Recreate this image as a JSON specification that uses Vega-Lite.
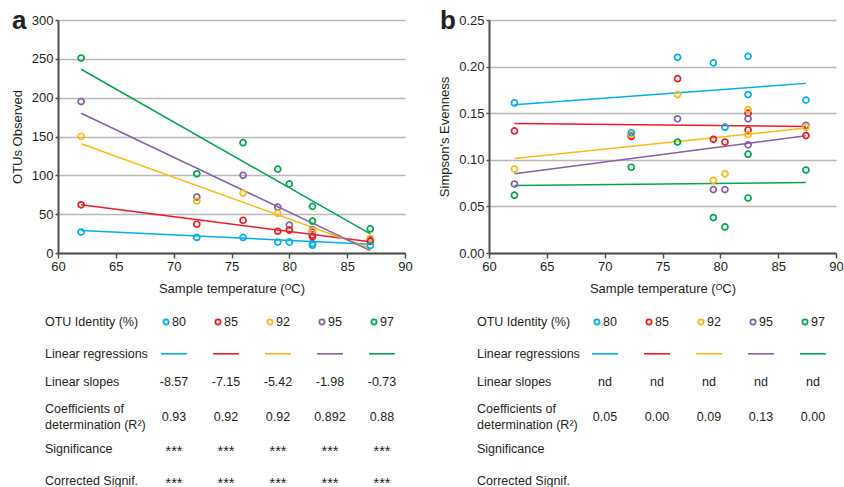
{
  "$schema": "https://vega.github.io/schema/vega-lite/v6.json",
  "padding": {"left": 11, "top": 8, "right": 0, "bottom": 0},
  "background": "white",
  "config": {
    "view": {"stroke": null},
    "font": "Liberation Sans",
    "text": {"font": "Liberation Sans", "fontSize": 12.5, "color": "#231f20"},
    "axis": {
      "domainColor": "#4d4d4d", "domainWidth": 2, "tickColor": "#4d4d4d", "tickWidth": 1.5,
      "labelFont": "Liberation Sans", "labelFontSize": 13, "labelColor": "#231f20",
      "titleFont": "Liberation Sans", "titleFontSize": 13, "titleFontWeight": "normal", "titleColor": "#231f20",
      "gridColor": "#b8b8b8", "gridWidth": 1.3, "labelFlush": false, "labelOverlap": false
    }
  },
  "datasets": {
    "otu": [
      {"T":62,"v":251,"id":"97"},{"T":62,"v":195,"id":"95"},{"T":62,"v":150,"id":"92"},{"T":62,"v":62,"id":"85"},{"T":62,"v":27,"id":"80"},
      {"T":72,"v":102,"id":"97"},{"T":72,"v":72,"id":"95"},{"T":72,"v":67,"id":"92"},{"T":72,"v":37,"id":"85"},{"T":72,"v":20,"id":"80"},
      {"T":76,"v":142,"id":"97"},{"T":76,"v":100,"id":"95"},{"T":76,"v":77,"id":"92"},{"T":76,"v":42,"id":"85"},{"T":76,"v":20,"id":"80"},
      {"T":79,"v":108,"id":"97"},{"T":79,"v":59,"id":"95"},{"T":79,"v":51,"id":"92"},{"T":79,"v":28,"id":"85"},{"T":79,"v":14,"id":"80"},
      {"T":80,"v":89,"id":"97"},{"T":80,"v":36,"id":"95"},{"T":80,"v":29.5,"id":"92"},{"T":80,"v":29.5,"id":"85"},{"T":80,"v":14,"id":"80"},
      {"T":82,"v":60,"id":"97"},{"T":82,"v":30,"id":"95"},{"T":82,"v":28,"id":"92"},{"T":82,"v":23,"id":"85"},{"T":82,"v":12,"id":"80"},
      {"T":82,"v":41,"id":"97"},{"T":82,"v":27,"id":"95"},{"T":82,"v":29,"id":"92"},{"T":82,"v":21,"id":"85"},{"T":82,"v":10,"id":"80"},
      {"T":87,"v":31,"id":"97"},{"T":87,"v":17,"id":"95"},{"T":87,"v":19,"id":"92"},{"T":87,"v":15,"id":"85"},{"T":87,"v":9.5,"id":"80"}
    ],
    "otuFit": [
      {"T":62,"v":29,"id":"80"},{"T":87,"v":11.2,"id":"80"},
      {"T":62,"v":62,"id":"85"},{"T":87,"v":14.5,"id":"85"},
      {"T":62,"v":140.6,"id":"92"},{"T":87,"v":6.2,"id":"92"},
      {"T":62,"v":180,"id":"95"},{"T":87,"v":3,"id":"95"},
      {"T":62,"v":236.6,"id":"97"},{"T":87,"v":24.5,"id":"97"}
    ],
    "even": [
      {"T":62.2,"v":0.161,"id":"80"},{"T":62.2,"v":0.131,"id":"85"},{"T":62.2,"v":0.090,"id":"92"},{"T":62.2,"v":0.074,"id":"95"},{"T":62.2,"v":0.062,"id":"97"},
      {"T":72.3,"v":0.126,"id":"95"},{"T":72.3,"v":0.092,"id":"97"},{"T":72.3,"v":0.125,"id":"85"},{"T":72.3,"v":0.127,"id":"92"},{"T":72.3,"v":0.129,"id":"80"},
      {"T":76.3,"v":0.210,"id":"80"},{"T":76.3,"v":0.187,"id":"85"},{"T":76.3,"v":0.170,"id":"92"},{"T":76.3,"v":0.144,"id":"95"},{"T":76.3,"v":0.119,"id":"97"},
      {"T":79.4,"v":0.204,"id":"80"},{"T":79.4,"v":0.122,"id":"85"},{"T":79.4,"v":0.078,"id":"92"},{"T":79.4,"v":0.068,"id":"95"},{"T":79.4,"v":0.038,"id":"97"},
      {"T":80.4,"v":0.135,"id":"80"},{"T":80.4,"v":0.119,"id":"85"},{"T":80.4,"v":0.085,"id":"92"},{"T":80.4,"v":0.068,"id":"95"},{"T":80.4,"v":0.028,"id":"97"},
      {"T":82.4,"v":0.211,"id":"80"},{"T":82.4,"v":0.150,"id":"85"},{"T":82.4,"v":0.154,"id":"92"},{"T":82.4,"v":0.144,"id":"95"},{"T":82.4,"v":0.106,"id":"97"},
      {"T":82.4,"v":0.170,"id":"80"},{"T":82.4,"v":0.132,"id":"85"},{"T":82.4,"v":0.127,"id":"92"},{"T":82.4,"v":0.116,"id":"95"},{"T":82.4,"v":0.059,"id":"97"},
      {"T":87.4,"v":0.164,"id":"80"},{"T":87.4,"v":0.137,"id":"95"},{"T":87.4,"v":0.135,"id":"92"},{"T":87.4,"v":0.126,"id":"85"},{"T":87.4,"v":0.089,"id":"97"}
    ],
    "evenFit": [
      {"T":62.2,"v":0.159,"id":"80"},{"T":87.4,"v":0.182,"id":"80"},
      {"T":62.2,"v":0.139,"id":"85"},{"T":87.4,"v":0.1357,"id":"85"},
      {"T":62.2,"v":0.1014,"id":"92"},{"T":87.4,"v":0.134,"id":"92"},
      {"T":62.2,"v":0.085,"id":"95"},{"T":87.4,"v":0.1257,"id":"95"},
      {"T":62.2,"v":0.0725,"id":"97"},{"T":87.4,"v":0.0757,"id":"97"}
    ],
    "tableA": [
      {"kind":"label","row":"identity","col":0,"text":"OTU Identity (%)"},
      {"kind":"label","row":"regression","col":0,"text":"Linear regressions"},
      {"kind":"labelS","row":"slope","col":0,"text":"Linear slopes"},
      {"kind":"label2","row":"r2","col":0,"text":"Coefficients of\ndetermination (R²)"},
      {"kind":"label","row":"sig","col":0,"text":"Significance"},
      {"kind":"label","row":"corr","col":0,"text":"Corrected Signif."},
      {"kind":"legend","row":"identity","col":1,"id":"80"},
      {"kind":"legend","row":"identity","col":2,"id":"85"},
      {"kind":"legend","row":"identity","col":3,"id":"92"},
      {"kind":"legend","row":"identity","col":4,"id":"95"},
      {"kind":"legend","row":"identity","col":5,"id":"97"},
      {"kind":"reg","row":"regression","col":1,"id":"80"},
      {"kind":"reg","row":"regression","col":2,"id":"85"},
      {"kind":"reg","row":"regression","col":3,"id":"92"},
      {"kind":"reg","row":"regression","col":4,"id":"95"},
      {"kind":"reg","row":"regression","col":5,"id":"97"},
      {"kind":"valueS","row":"slope","col":1,"text":"-8.57"},
      {"kind":"valueS","row":"slope","col":2,"text":"-7.15"},
      {"kind":"valueS","row":"slope","col":3,"text":"-5.42"},
      {"kind":"valueS","row":"slope","col":4,"text":"-1.98"},
      {"kind":"valueS","row":"slope","col":5,"text":"-0.73"},
      {"kind":"value","row":"r2","col":1,"text":"0.93"},
      {"kind":"value","row":"r2","col":2,"text":"0.92"},
      {"kind":"value","row":"r2","col":3,"text":"0.92"},
      {"kind":"value","row":"r2","col":4,"text":"0.892"},
      {"kind":"value","row":"r2","col":5,"text":"0.88"},
      {"kind":"star","row":"sig","col":1,"text":"***"},
      {"kind":"star","row":"sig","col":2,"text":"***"},
      {"kind":"star","row":"sig","col":3,"text":"***"},
      {"kind":"star","row":"sig","col":4,"text":"***"},
      {"kind":"star","row":"sig","col":5,"text":"***"},
      {"kind":"star","row":"corr","col":1,"text":"***"},
      {"kind":"star","row":"corr","col":2,"text":"***"},
      {"kind":"star","row":"corr","col":3,"text":"***"},
      {"kind":"star","row":"corr","col":4,"text":"***"},
      {"kind":"star","row":"corr","col":5,"text":"***"}
    ],
    "tableB": [
      {"kind":"label","row":"identity","col":0,"text":"OTU Identity (%)"},
      {"kind":"label","row":"regression","col":0,"text":"Linear regressions"},
      {"kind":"labelS","row":"slope","col":0,"text":"Linear slopes"},
      {"kind":"label2","row":"r2","col":0,"text":"Coefficients of\ndetermination (R²)"},
      {"kind":"label","row":"sig","col":0,"text":"Significance"},
      {"kind":"label","row":"corr","col":0,"text":"Corrected Signif."},
      {"kind":"legend","row":"identity","col":1,"id":"80"},
      {"kind":"legend","row":"identity","col":2,"id":"85"},
      {"kind":"legend","row":"identity","col":3,"id":"92"},
      {"kind":"legend","row":"identity","col":4,"id":"95"},
      {"kind":"legend","row":"identity","col":5,"id":"97"},
      {"kind":"reg","row":"regression","col":1,"id":"80"},
      {"kind":"reg","row":"regression","col":2,"id":"85"},
      {"kind":"reg","row":"regression","col":3,"id":"92"},
      {"kind":"reg","row":"regression","col":4,"id":"95"},
      {"kind":"reg","row":"regression","col":5,"id":"97"},
      {"kind":"valueS","row":"slope","col":1,"text":"nd"},
      {"kind":"valueS","row":"slope","col":2,"text":"nd"},
      {"kind":"valueS","row":"slope","col":3,"text":"nd"},
      {"kind":"valueS","row":"slope","col":4,"text":"nd"},
      {"kind":"valueS","row":"slope","col":5,"text":"nd"},
      {"kind":"value","row":"r2","col":1,"text":"0.05"},
      {"kind":"value","row":"r2","col":2,"text":"0.00"},
      {"kind":"value","row":"r2","col":3,"text":"0.09"},
      {"kind":"value","row":"r2","col":4,"text":"0.13"},
      {"kind":"value","row":"r2","col":5,"text":"0.00"}
    ]
  },
  "columns": 2,
  "spacing": {"row": 69, "column": 84},
  "bounds": "flush",
  "concat": [
    {
      "width": 347, "height": 233,
      "title": {"text": "a", "anchor": "start", "frame": "group", "fontSize": 26, "fontWeight": "bold", "font": "Liberation Sans", "color": "#231f20", "baseline": "alphabetic", "offset": 0, "dx": -46, "dy": 41},
      "encoding": {
        "x": {"field": "T", "type": "quantitative", "scale": {"domain": [60, 90], "nice": false, "zero": false},
              "axis": {"title": "Sample temperature (ᴼC)", "values": [60,65,70,75,80,85,90], "grid": false, "tickSize": 5, "labelPadding": 2, "titlePadding": 9}},
        "y": {"field": "v", "type": "quantitative", "scale": {"domain": [0, 300], "nice": false},
              "axis": {"title": "OTUs Observed", "values": [0,50,100,150,200,250,300], "grid": true, "tickSize": 3, "labelPadding": 2, "titlePadding": 7}},
        "color": {"field": "id", "type": "nominal", "scale": {"domain": ["80","85","92","95","97"], "range": ["#00aeef","#ed1c24","#fdb913","#8461a8","#00a651"]}, "legend": null}
      },
      "layer": [
        {"data": {"name": "otuFit"}, "mark": {"type": "line", "strokeWidth": 1.5}},
        {"data": {"name": "otu"}, "mark": {"type": "point", "filled": false, "size": 36, "strokeWidth": 1.7, "opacity": 1}}
      ]
    },
    {
      "width": 347, "height": 233,
      "title": {"text": "b", "anchor": "start", "frame": "group", "fontSize": 26, "fontWeight": "bold", "font": "Liberation Sans", "color": "#231f20", "baseline": "alphabetic", "offset": 0, "dx": -49, "dy": 41},
      "encoding": {
        "x": {"field": "T", "type": "quantitative", "scale": {"domain": [60, 90], "nice": false, "zero": false},
              "axis": {"title": "Sample temperature (ᴼC)", "values": [60,65,70,75,80,85,90], "grid": false, "tickSize": 5, "labelPadding": 2, "titlePadding": 9}},
        "y": {"field": "v", "type": "quantitative", "scale": {"domain": [0, 0.25], "nice": false},
              "axis": {"title": "Simpson's Evenness", "values": [0,0.05,0.1,0.15,0.2,0.25], "format": ".2f", "grid": true, "tickSize": 3, "labelPadding": 2, "titlePadding": 7}},
        "color": {"field": "id", "type": "nominal", "scale": {"domain": ["80","85","92","95","97"], "range": ["#00aeef","#ed1c24","#fdb913","#8461a8","#00a651"]}, "legend": null}
      },
      "layer": [
        {"data": {"name": "evenFit"}, "mark": {"type": "line", "strokeWidth": 1.5}},
        {"data": {"name": "even"}, "mark": {"type": "point", "filled": false, "size": 36, "strokeWidth": 1.7, "opacity": 1}}
      ]
    },
    {
      "width": 347, "height": 159,
      "data": {"name": "tableA"},
      "encoding": {
        "y": {"field": "row", "type": "nominal", "scale": {"type": "point", "domain": ["identity","regression","slope","r2","sig","corr"], "padding": 0}, "axis": null},
        "x": {"field": "col", "type": "quantitative", "scale": {"domain": [0, 5], "range": [64, 324]}, "axis": null}
      },
      "layer": [
        {"transform": [{"filter": "datum.kind == 'label'"}],
         "mark": {"type": "text", "align": "left", "baseline": "middle", "dx": -77},
         "encoding": {"text": {"field": "text"}}},
        {"transform": [{"filter": "datum.kind == 'labelS'"}],
         "mark": {"type": "text", "align": "left", "baseline": "middle", "dx": -77, "dy": -4},
         "encoding": {"text": {"field": "text"}}},
        {"transform": [{"filter": "datum.kind == 'label2'"}],
         "mark": {"type": "text", "align": "left", "baseline": "middle", "dx": -77, "dy": -8, "lineBreak": "\n", "lineHeight": 16},
         "encoding": {"text": {"field": "text"}}},
        {"transform": [{"filter": "datum.kind == 'value'"}],
         "mark": {"type": "text", "align": "center", "baseline": "middle"},
         "encoding": {"text": {"field": "text"}}},
        {"transform": [{"filter": "datum.kind == 'valueS'"}],
         "mark": {"type": "text", "align": "center", "baseline": "middle", "dy": -4},
         "encoding": {"text": {"field": "text"}}},
        {"transform": [{"filter": "datum.kind == 'star'"}],
         "mark": {"type": "text", "align": "center", "baseline": "middle", "fontSize": 14.5, "dy": 3},
         "encoding": {"text": {"field": "text"}}},
        {"transform": [{"filter": "datum.kind == 'legend'"}],
         "mark": {"type": "text", "align": "left", "baseline": "middle", "dx": -2},
         "encoding": {"text": {"field": "id"}}},
        {"transform": [{"filter": "datum.kind == 'legend'"}],
         "mark": {"type": "point", "filled": false, "size": 28, "strokeWidth": 1.7, "opacity": 1, "xOffset": -8},
         "encoding": {"color": {"field": "id", "type": "nominal", "legend": null}}},
        {"transform": [{"filter": "datum.kind == 'reg'"}],
         "mark": {"type": "rule", "strokeWidth": 1.6, "xOffset": -13, "x2Offset": 13},
         "encoding": {"x2": {"field": "col"}, "color": {"field": "id", "type": "nominal", "legend": null}}}
      ]
    },
    {
      "width": 347, "height": 159,
      "data": {"name": "tableB"},
      "encoding": {
        "y": {"field": "row", "type": "nominal", "scale": {"type": "point", "domain": ["identity","regression","slope","r2","sig","corr"], "padding": 0}, "axis": null},
        "x": {"field": "col", "type": "quantitative", "scale": {"domain": [0, 5], "range": [64, 324]}, "axis": null}
      },
      "layer": [
        {"transform": [{"filter": "datum.kind == 'label'"}],
         "mark": {"type": "text", "align": "left", "baseline": "middle", "dx": -76},
         "encoding": {"text": {"field": "text"}}},
        {"transform": [{"filter": "datum.kind == 'labelS'"}],
         "mark": {"type": "text", "align": "left", "baseline": "middle", "dx": -76, "dy": -4},
         "encoding": {"text": {"field": "text"}}},
        {"transform": [{"filter": "datum.kind == 'label2'"}],
         "mark": {"type": "text", "align": "left", "baseline": "middle", "dx": -76, "dy": -8, "lineBreak": "\n", "lineHeight": 16},
         "encoding": {"text": {"field": "text"}}},
        {"transform": [{"filter": "datum.kind == 'value'"}],
         "mark": {"type": "text", "align": "center", "baseline": "middle"},
         "encoding": {"text": {"field": "text"}}},
        {"transform": [{"filter": "datum.kind == 'valueS'"}],
         "mark": {"type": "text", "align": "center", "baseline": "middle", "dy": -4},
         "encoding": {"text": {"field": "text"}}},
        {"transform": [{"filter": "datum.kind == 'legend'"}],
         "mark": {"type": "text", "align": "left", "baseline": "middle", "dx": -2},
         "encoding": {"text": {"field": "id"}}},
        {"transform": [{"filter": "datum.kind == 'legend'"}],
         "mark": {"type": "point", "filled": false, "size": 28, "strokeWidth": 1.7, "opacity": 1, "xOffset": -8},
         "encoding": {"color": {"field": "id", "type": "nominal", "legend": null}}},
        {"transform": [{"filter": "datum.kind == 'reg'"}],
         "mark": {"type": "rule", "strokeWidth": 1.6, "xOffset": -13, "x2Offset": 13},
         "encoding": {"x2": {"field": "col"}, "color": {"field": "id", "type": "nominal", "legend": null}}}
      ]
    }
  ]
}
